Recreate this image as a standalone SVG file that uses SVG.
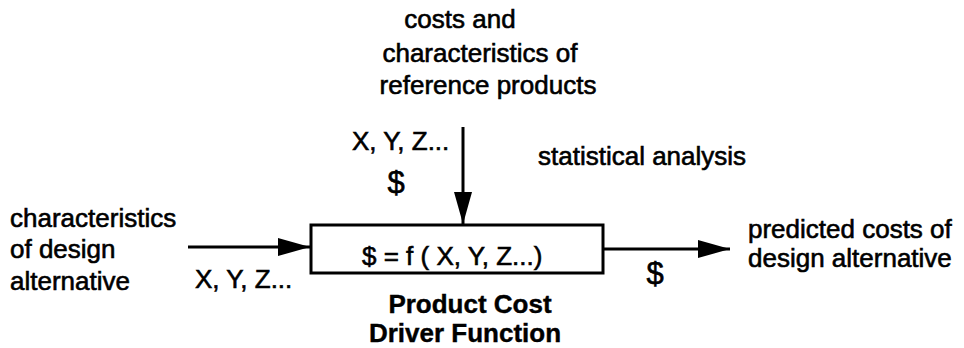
<svg xmlns="http://www.w3.org/2000/svg" width="964" height="348" viewBox="0 0 964 348">
  <style>
    text { font-family: "Liberation Sans", Arial, Helvetica, sans-serif; font-size: 26px; fill: #000; stroke: #000; stroke-width: 0.6; }
    .bold { font-weight: bold; stroke-width: 0.4; }
    .big { font-size: 31px; }
    .mid { text-anchor: middle; }
    .line { stroke: #000; stroke-width: 3; fill: none; }
    .box { stroke: #000; stroke-width: 3; fill: #fff; }
  </style>
  <defs>
    <marker id="arrow" markerUnits="userSpaceOnUse" markerWidth="32" markerHeight="20" refX="32" refY="10" orient="auto">
      <path d="M0,1 L32,10 L0,19 Z" fill="#000"/>
    </marker>
  </defs>
  <rect width="964" height="348" fill="#fff"/>

  <!-- connectors -->
  <g id="connectors">
    <line class="line" x1="188" y1="247" x2="310" y2="247" marker-end="url(#arrow)"/>
    <line class="line" x1="463" y1="127" x2="463" y2="224" marker-end="url(#arrow)"/>
    <line class="line" x1="604" y1="249" x2="730" y2="249" marker-end="url(#arrow)"/>
  </g>

  <!-- input from reference products -->
  <g id="reference-products">
    <text class="mid" x="460" y="28">costs and</text>
    <text class="mid" x="480" y="62">characteristics of</text>
    <text class="mid" x="488" y="94">reference products</text>
  </g>

  <!-- design alternative input -->
  <g id="design-alternative">
    <text x="10" y="227">characteristics</text>
    <text x="10" y="258">of design</text>
    <text x="10" y="290">alternative</text>
  </g>

  <!-- labels on the connectors -->
  <g id="labels">
    <text x="352" y="150">X, Y, Z...</text>
    <text class="mid big" x="396" y="193">$</text>
    <text x="538" y="165">statistical analysis</text>
    <text x="195" y="288">X, Y, Z...</text>
    <text class="mid big" x="655" y="284">$</text>
  </g>

  <!-- cost driver function -->
  <g id="cost-driver-function">
    <rect class="box" x="311" y="225" width="292" height="48"/>
    <text x="362" y="265">$ = f  ( X, Y, Z...)</text>
    <text class="mid bold" x="470" y="313">Product Cost</text>
    <text class="mid bold" x="465" y="342">Driver Function</text>
  </g>

  <!-- predicted costs output -->
  <g id="predicted-costs">
    <text x="748" y="238">predicted costs of</text>
    <text x="748" y="267">design alternative</text>
  </g>
</svg>
